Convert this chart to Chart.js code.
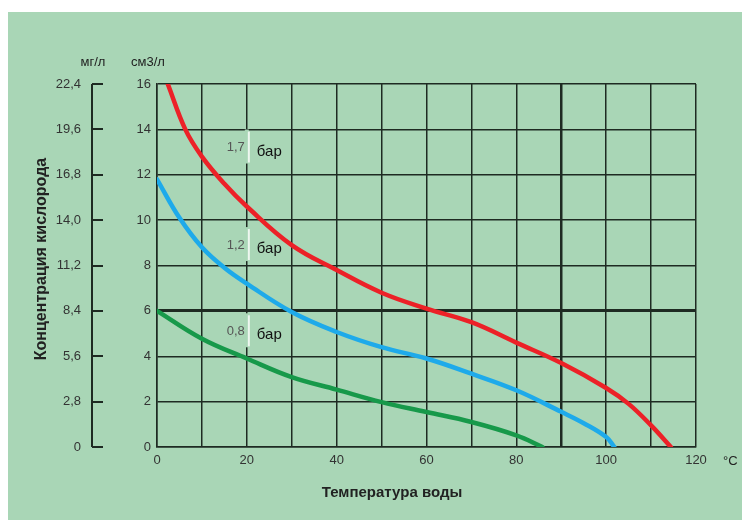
<!DOCTYPE html>
<html>
<head>
<meta charset="utf-8">
<script src="https://cdn.jsdelivr.net/npm/chart.js@4.4.1/dist/chart.umd.min.js"></script>
<style>
  html, body { margin: 0; padding: 0; background: #ffffff; }
  canvas { display: block; }
</style>
</head>
<body>
<canvas id="chart" width="742" height="520"></canvas>
<script>
// temperature (°C) and oxygen (cm3/l)
var redTemp   = [2.4, 6.3, 10, 15, 20, 30, 40, 50, 60, 70, 80, 90, 100, 105, 110, 114.4];
var redO2     = [16, 14, 12.8, 11.6, 10.6, 8.9, 7.8, 6.8, 6.1, 5.5, 4.6, 3.7, 2.6, 1.9, 0.95, 0];
var blueTemp  = [0, 5, 10, 15, 20, 30, 40, 50, 60, 70, 80, 90, 95, 100, 101.8];
var blueO2    = [11.8, 10.1, 8.8, 7.9, 7.2, 5.95, 5.07, 4.4, 3.9, 3.23, 2.5, 1.55, 1.05, 0.44, 0];
var greenTemp = [0, 10, 20, 30, 40, 50, 60, 70, 80, 85.8];
var greenO2   = [6.0, 4.77, 3.9, 3.08, 2.53, 1.98, 1.54, 1.1, 0.51, 0];

var seriesNames  = ["1,7", "1,2", "0,8"];
var seriesLabelY = [13.2, 8.9, 5.1];   // where the pressure labels sit, cm3/l
var mgTicks  = [0, 2.8, 5.6, 8.4, 11.2, 14.0, 16.8, 19.6, 22.4];
var mgLabels = ["0", "2,8", "5,6", "8,4", "11,2", "14,0", "16,8", "19,6", "22,4"];

var GRID = "#1e2a22";
var FONT = "'Liberation Sans', Arial, sans-serif";

function points(xs, ys) {
    return xs.map(function (x, i) { return { x: x, y: ys[i] }; });
}

//background, units, titles and pressure labels
var decor = {
    id: "decor",
    beforeDraw: function (chart) {
        var c = chart.ctx;
        c.save();
        c.fillStyle = "#ffffff";
        c.fillRect(0, 0, chart.width, chart.height);
        c.fillStyle = "#a9d6b6";
        c.fillRect(8, 12, chart.width - 8, chart.height - 12);
        c.restore();
    },
    afterDraw: function (chart) {
        var c = chart.ctx;
        var xs = chart.scales.x, ys = chart.scales.y, mg = chart.scales.y2;
        c.save();
        // mg/l axis line at the foot of its ticks
        var lx = mg.right - 11;
        c.strokeStyle = GRID;
        c.lineWidth = 2;
        c.beginPath();
        c.moveTo(lx, mg.getPixelForValue(22.4));
        c.lineTo(lx, mg.getPixelForValue(0));
        c.stroke();

        c.fillStyle = "#222";
        c.font = "13px " + FONT;
        c.textAlign = "center";
        c.textBaseline = "middle";
        c.fillText("мг/л", 93, 62);
        c.fillText("см3/л", 148, 62);
        c.textAlign = "left";
        c.fillText("°C", 723, 461);

        c.font = "bold 15px " + FONT;
        c.textAlign = "center";
        c.fillText("Температура воды", 392, 493);
        c.font = "bold 16px " + FONT;
        c.translate(42, 259);
        c.rotate(-Math.PI / 2);
        c.fillText("Концентрация кислорода", 0, 0);
        c.setTransform(1, 0, 0, 1, 0, 0);

        var gx = xs.getPixelForValue(20);
        for (var i = 0; i < seriesNames.length; i++) {
            var py = ys.getPixelForValue(seriesLabelY[i]);
            c.fillStyle = "#a9d6b6";
            c.fillRect(gx - 2, py - 18, 4, 34);
            c.strokeStyle = "#eef7f0";
            c.lineWidth = 2;
            c.beginPath();
            c.moveTo(gx + 2, py - 16);
            c.lineTo(gx + 2, py + 15);
            c.stroke();
            c.fillStyle = "#555";
            c.font = "13px " + FONT;
            c.textAlign = "right";
            c.fillText(seriesNames[i], gx - 2, py);
            c.fillStyle = "#111";
            c.font = "15px " + FONT;
            c.textAlign = "left";
            c.fillText("бар", gx + 10, py + 4);
        }
        c.restore();
    }
};

var ctx = document.getElementById("chart").getContext("2d");
var chart = new Chart(ctx, {
    type: "line",
    data: {
        datasets: [
            { label: "1,7 бар", data: points(redTemp, redO2), borderColor: "#ec2127" },
            { label: "1,2 бар", data: points(blueTemp, blueO2), borderColor: "#1eaaea" },
            { label: "0,8 бар", data: points(greenTemp, greenO2), borderColor: "#17994a" }
        ]
    },
    options: {
        responsive: false,
        animation: false,
        layout: { padding: { left: 0, top: 84, right: 46, bottom: 0 } },
        elements: {
            line: { borderWidth: 4.5, tension: 0.4, fill: false, borderCapStyle: "round" },
            point: { radius: 0 }
        },
        plugins: { legend: { display: false }, tooltip: { enabled: false } },
        scales: {
            x: {
                type: "linear", min: 0, max: 120,
                ticks: {
                    stepSize: 10, padding: 6, color: "#333",
                    font: { family: FONT, size: 13 },
                    callback: function (v) { return v % 20 === 0 ? v : ""; }
                },
                grid: {
                    color: GRID, drawTicks: false,
                    lineWidth: function (c) { return c.tick && c.tick.value === 90 ? 2.5 : 1.5; }
                },
                border: { color: GRID, width: 1.5 },
                afterFit: function (s) { s.height = 73; }
            },
            y: {
                type: "linear", position: "left", min: 0, max: 16, weight: 0,
                ticks: { stepSize: 2, padding: 6, color: "#333", font: { family: FONT, size: 13 } },
                grid: {
                    color: GRID, drawTicks: false,
                    lineWidth: function (c) { return c.tick && c.tick.value === 6 ? 3 : 1.5; }
                },
                border: { color: GRID, width: 1.5 },
                afterFit: function (s) { s.width = 54; }
            },
            y2: {
                type: "linear", position: "left", min: 0, max: 22.4, weight: 1,
                afterBuildTicks: function (s) {
                    s.ticks = mgTicks.map(function (v) { return { value: v }; });
                },
                ticks: {
                    padding: 11, color: "#333", font: { family: FONT, size: 13 },
                    callback: function (v, i) { return mgLabels[i]; }
                },
                grid: { color: GRID, lineWidth: 2, drawOnChartArea: false, drawTicks: true, tickLength: 11 },
                border: { display: false },
                afterFit: function (s) { s.width = 103; }
            }
        }
    },
    plugins: [decor]
});
</script>
</body>
</html>
